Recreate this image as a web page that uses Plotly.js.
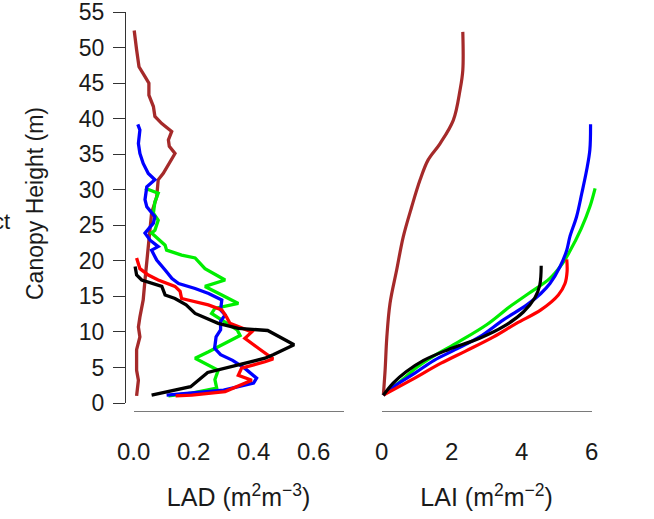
<!DOCTYPE html>
<html>
<head>
<meta charset="utf-8">
<script src="https://cdn.plot.ly/plotly-3.0.1.min.js"></script>
<style>html,body{margin:0;padding:0;background:#fff;}#chart{width:654px;height:519px;}</style>
</head>
<body>
<div id="chart"></div>
<script>
// ---------- LAD profiles (height m, LAD m2 m-3) ----------
const brownLadH = [1.0, 3.2, 4.6, 7.5, 9.3, 10.7, 12.1, 14.5, 17.3, 19.7, 22.0, 24.3, 26.7, 29.0, 31.4, 32.3, 33.9, 35.1, 36.1, 37.0, 38.2, 39.3, 40.3, 41.7, 43.3, 45.0, 45.9, 47.3, 49.7, 52.4];
const brownLad  = [0.010, 0.016, 0.010, 0.010, 0.021, 0.016, 0.021, 0.032, 0.038, 0.044, 0.049, 0.055, 0.060, 0.077, 0.082, 0.099, 0.121, 0.138, 0.119, 0.116, 0.127, 0.094, 0.071, 0.066, 0.051, 0.051, 0.038, 0.018, 0.010, 0.002];

const blueLadH = [1.1, 1.4, 1.8, 2.8, 3.5, 4.9, 6.0, 6.8, 7.7, 9.3, 10.3, 11.5, 12.4, 13.1, 14.5, 15.4, 16.1, 16.8, 17.5, 18.7, 20.1, 21.5, 22.0, 22.9, 23.9, 25.3, 26.2, 27.6, 28.6, 30.4, 31.4, 32.3, 33.7, 35.1, 36.5, 38.4, 39.2];
const blueLad  = [0.11, 0.19, 0.30, 0.40, 0.41, 0.37, 0.33, 0.29, 0.27, 0.275, 0.29, 0.29, 0.305, 0.29, 0.294, 0.25, 0.205, 0.15, 0.128, 0.105, 0.077, 0.060, 0.082, 0.055, 0.038, 0.066, 0.071, 0.044, 0.038, 0.044, 0.071, 0.049, 0.032, 0.021, 0.016, 0.021, 0.014];

const redLadH = [1.0, 1.1, 1.6, 3.2, 3.9, 4.9, 5.8, 6.2, 7.7, 9.1, 10.0, 11.2, 12.1, 13.1, 13.8, 14.2, 14.7, 15.7, 16.4, 17.3, 18.0, 18.9, 20.4];
const redLad  = [0.14, 0.194, 0.305, 0.394, 0.349, 0.36, 0.438, 0.465, 0.416, 0.371, 0.394, 0.321, 0.31, 0.294, 0.249, 0.205, 0.16, 0.155, 0.138, 0.082, 0.049, 0.021, 0.01];

const greenLadH = [1.0, 1.4, 2.1, 3.3, 4.6, 5.4, 6.3, 7.2, 8.2, 9.5, 10.3, 11.4, 12.6, 13.3, 14.0, 15.2, 16.4, 17.3, 18.9, 20.4, 20.8, 21.5, 22.2, 23.9, 24.3, 25.7, 26.7, 28.3, 29.5, 30.2];
const greenLad  = [0.116, 0.194, 0.277, 0.271, 0.282, 0.245, 0.205, 0.25, 0.294, 0.355, 0.345, 0.305, 0.26, 0.271, 0.349, 0.294, 0.238, 0.305, 0.238, 0.205, 0.16, 0.11, 0.105, 0.06, 0.071, 0.082, 0.066, 0.071, 0.082, 0.038];

const blackLadH = [1.1, 2.3, 4.3, 6.3, 6.8, 8.2, 10.2, 10.5, 11.2, 12.6, 13.8, 14.7, 15.2, 16.4, 17.3, 18.0, 19.2];
const blackLad  = [0.06, 0.19, 0.247, 0.438, 0.465, 0.535, 0.447, 0.349, 0.282, 0.205, 0.175, 0.138, 0.105, 0.094, 0.027, 0.010, 0.005];

// ---------- cumulative LAI profiles (height m, LAI m2 m-2) ----------
const brownLaiH = [1.1, 4.6, 9.3, 14.0, 18.7, 23.4, 27.6, 31.4, 34.2, 36.5, 39.8, 44.0, 46.8, 52.2];
const brownLai  = [0.05, 0.10, 0.15, 0.24, 0.43, 0.62, 0.86, 1.10, 1.33, 1.67, 2.05, 2.24, 2.32, 2.32];

const blueLaiH = [1.1, 2.5, 4.2, 6.0, 7.5, 9.3, 11.7, 13.8, 15.4, 16.8, 19.2, 21.5, 23.4, 26.2, 29.5, 32.8, 35.6, 39.2];
const blueLai  = [0.05, 0.40, 0.95, 1.50, 2.10, 2.80, 3.48, 4.15, 4.55, 4.81, 5.10, 5.29, 5.38, 5.57, 5.72, 5.86, 5.95, 5.97];

const greenLaiH = [1.1, 3.3, 5.0, 6.5, 8.6, 11.0, 13.5, 15.4, 17.5, 19.5, 21.1, 24.5, 27.6, 30.2];
const greenLai  = [0.05, 0.60, 1.00, 1.45, 2.20, 3.00, 3.65, 4.20, 4.80, 5.15, 5.35, 5.70, 5.95, 6.10];

const redLaiH = [1.1, 3.1, 5.6, 7.3, 9.3, 11.2, 13.1, 15.2, 16.8, 18.5, 20.2];
const redLai  = [0.05, 0.80, 1.70, 2.40, 3.20, 3.85, 4.55, 5.05, 5.24, 5.30, 5.29];

const blackLaiH = [1.1, 2.8, 4.4, 6.0, 7.5, 9.1, 10.8, 12.8, 14.8, 16.6, 19.3];
const blackLai  = [0.05, 0.33, 0.70, 1.20, 1.90, 2.80, 3.50, 4.05, 4.38, 4.52, 4.56];

// ---------- axis labels ----------
const yTicks = [0, 5, 10, 15, 20, 25, 30, 35, 40, 45, 50, 55];
const ladTicks = [0, 0.2, 0.4, 0.6];
const ladTickText = ['0.0', '0.2', '0.4', '0.6'];
const laiTicks = [0, 2, 4, 6];
const laiTickText = ['0', '2', '4', '6'];
const yTitle = 'Canopy Height (m)';

const COLORS = {brown: '#A52A2A', blue: '#0000FF', red: '#FF0000', green: '#00EE00', black: '#000000'};
const FONT = 'Liberation Sans, Arial, Helvetica, sans-serif';
const TXT = '#1a1a1a';
const W = 654;

function ladTrace(x, y, c) {
  return {type: 'scatter', mode: 'lines', x: x, y: y, xaxis: 'x', yaxis: 'y',
          line: {color: c, width: 3.3}, hoverinfo: 'skip', showlegend: false};
}
function laiTrace(x, y, c) {
  return {type: 'scatter', mode: 'lines', x: x, y: y, xaxis: 'x2', yaxis: 'y',
          line: {color: c, width: 3.2, shape: 'spline', smoothing: 1}, hoverinfo: 'skip', showlegend: false};
}

const data = [
  ladTrace(brownLad, brownLadH, COLORS.brown),
  ladTrace(greenLad, greenLadH, COLORS.green),
  ladTrace(blueLad, blueLadH, COLORS.blue),
  ladTrace(redLad, redLadH, COLORS.red),
  ladTrace(blackLad, blackLadH, COLORS.black),
  laiTrace(brownLai, brownLaiH, COLORS.brown),
  laiTrace(greenLai, greenLaiH, COLORS.green),
  laiTrace(blueLai, blueLaiH, COLORS.blue),
  laiTrace(redLai, redLaiH, COLORS.red),
  laiTrace(blackLai, blackLaiH, COLORS.black),
  {type: 'scatter', mode: 'lines', x: [], y: [], xaxis: 'x3', yaxis: 'y', showlegend: false, hoverinfo: 'skip'},
  {type: 'scatter', mode: 'lines', x: [], y: [], xaxis: 'x4', yaxis: 'y', showlegend: false, hoverinfo: 'skip'}
];

const hidden = {visible: false, showgrid: false, zeroline: false, fixedrange: true};
const decoAxis = {
  anchor: 'free', position: 0, showline: true, linecolor: '#7a7a7a', linewidth: 1.4,
  ticks: '', ticklabelstandoff: 19, ticklabeloverflow: 'allow', showgrid: false, zeroline: false,
  tickfont: {family: FONT, size: 24, color: TXT}
};

const layout = {
  width: 654, height: 519,
  margin: {l: 0, r: 0, t: 12, b: 108},
  paper_bgcolor: '#ffffff', plot_bgcolor: 'rgba(0,0,0,0)',
  font: {family: FONT, color: TXT},
  showlegend: false,
  xaxis: Object.assign({domain: [125 / W, 363 / W], range: [-0.02867, 0.7647], anchor: 'y'}, hidden),
  xaxis2: Object.assign({domain: [363 / W, 620 / W], range: [-0.5314, 6.8114], anchor: 'y'}, hidden),
  xaxis3: Object.assign({}, decoAxis, {
    domain: [133.6 / W, 343.6 / W], range: [0, 0.7],
    tickvals: ladTicks, ticktext: ladTickText,
    title: {text: 'LAD (m<sup>2</sup>m<sup>\u22123</sup>)', font: {family: FONT, size: 25, color: TXT}, standoff: 24}
  }),
  xaxis4: Object.assign({}, decoAxis, {
    domain: [381.6 / W, 591.6 / W], range: [0, 6],
    tickvals: laiTicks, ticktext: laiTickText,
    title: {text: 'LAI (m<sup>2</sup>m<sup>\u22122</sup>)', font: {family: FONT, size: 25, color: TXT}, standoff: 24}
  }),
  yaxis: {
    domain: [8 / 399, 1], range: [0, 55], anchor: 'free', position: 125 / W,
    tickvals: yTicks, ticks: 'outside', ticklen: 12, tickwidth: 1, tickcolor: '#333',
    showline: true, linecolor: '#333', linewidth: 1,
    showgrid: false, zeroline: false, ticklabelstandoff: 4, ticklabeloverflow: 'allow',
    tickfont: {family: FONT, size: 23, color: TXT},
    fixedrange: true
  },
  annotations: [
    {text: yTitle, textangle: -90, xref: 'paper', yref: 'paper', x: 35 / W, y: (411 - 204) / 399,
     xanchor: 'center', yanchor: 'middle', showarrow: false,
     font: {family: FONT, size: 23, color: TXT}},
    {text: 'ct', xref: 'paper', yref: 'paper', x: 12 / W, y: (411 - 221) / 399,
     xanchor: 'right', yanchor: 'middle', showarrow: false,
     font: {family: FONT, size: 22, color: TXT}}
  ]
};

Plotly.newPlot('chart', data, layout, {staticPlot: true, displayModeBar: false});
</script>
</body>
</html>
